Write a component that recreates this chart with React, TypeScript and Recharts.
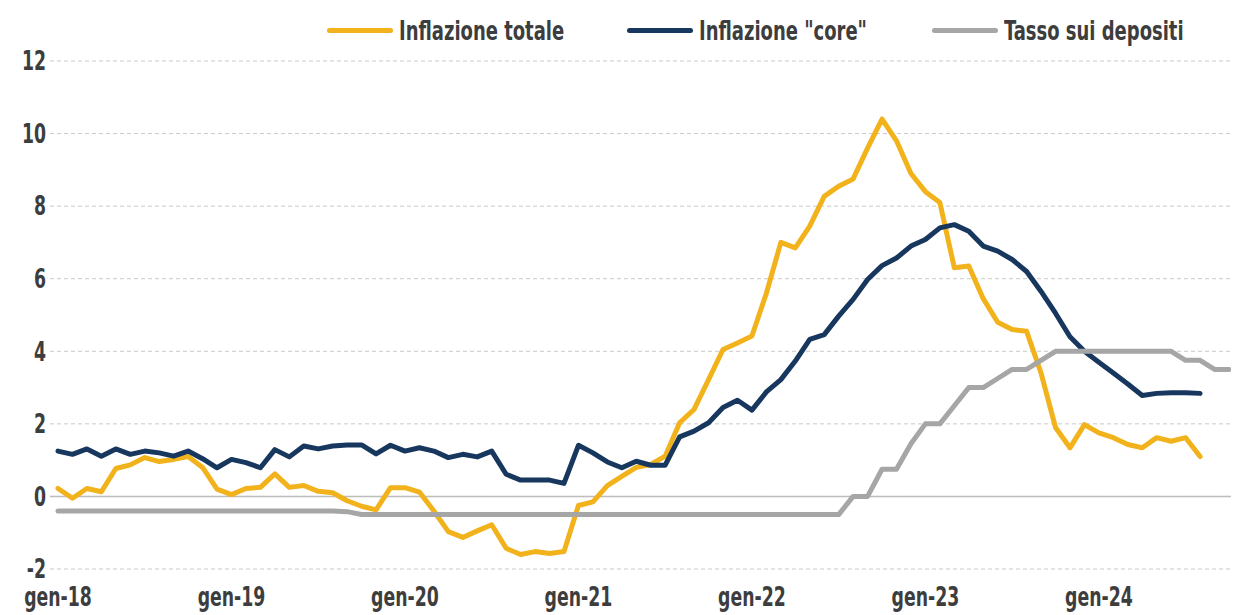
import React from "react"
import { CartesianGrid, Line, LineChart, ReferenceLine, XAxis, YAxis } from "recharts"

// monthly categories, gen-18 .. ott-24
const monthNames = ["gen", "feb", "mar", "apr", "mag", "giu", "lug", "ago", "set", "ott", "nov", "dic"]
const years = ["18", "19", "20", "21", "22", "23", "24"]
const months = years.flatMap((y) => monthNames.map((m) => `${m}-${y}`)).slice(0, 82)

// Inflazione totale (gen-18 .. ago-24)
const totale = [
  0.22, -0.05, 0.22, 0.13, 0.77, 0.87, 1.07, 0.96, 1.02, 1.1, 0.8, 0.2,
  0.05, 0.22, 0.25, 0.62, 0.25, 0.3, 0.14, 0.1, -0.12, -0.27, -0.37, 0.24,
  0.24, 0.12, -0.4, -0.97, -1.13, -0.95, -0.78, -1.43, -1.6, -1.52, -1.57, -1.52,
  -0.25, -0.15, 0.3, 0.55, 0.8, 0.88, 1.11, 2.03, 2.4, 3.22, 4.05, 4.23,
  4.42, 5.6, 7.0, 6.85, 7.45, 8.27, 8.55, 8.75, 9.6, 10.4, 9.8, 8.9,
  8.4, 8.1, 6.3, 6.35, 5.45, 4.8, 4.6, 4.55, 3.4, 1.9, 1.34, 1.98,
  1.75, 1.62, 1.43, 1.34, 1.62, 1.52, 1.62, 1.1,
]

// Inflazione "core" (gen-18 .. ago-24)
const core = [
  1.25, 1.16, 1.31, 1.11, 1.31, 1.16, 1.25, 1.2, 1.11, 1.25, 1.04, 0.79,
  1.02, 0.93, 0.79, 1.29, 1.09, 1.39, 1.31, 1.39, 1.42, 1.42, 1.17, 1.41,
  1.25, 1.34, 1.25, 1.07, 1.16, 1.09, 1.25, 0.61, 0.45, 0.45, 0.45, 0.36,
  1.41, 1.2, 0.95, 0.79, 0.97, 0.86, 0.86, 1.64, 1.8, 2.03, 2.45, 2.65,
  2.38, 2.88, 3.22, 3.73, 4.33, 4.46, 4.97, 5.43, 5.98, 6.36, 6.57, 6.9,
  7.08, 7.4, 7.49, 7.31, 6.9, 6.76, 6.53, 6.2, 5.65, 5.05, 4.4, 4.0,
  3.7, 3.4, 3.1, 2.78, 2.84, 2.86, 2.86, 2.84,
]

// Tasso sui depositi (gen-18 .. ott-24)
const depositi = [
  -0.4, -0.4, -0.4, -0.4, -0.4, -0.4, -0.4, -0.4, -0.4, -0.4, -0.4, -0.4,
  -0.4, -0.4, -0.4, -0.4, -0.4, -0.4, -0.4, -0.4, -0.42, -0.5, -0.5, -0.5,
  -0.5, -0.5, -0.5, -0.5, -0.5, -0.5, -0.5, -0.5, -0.5, -0.5, -0.5, -0.5,
  -0.5, -0.5, -0.5, -0.5, -0.5, -0.5, -0.5, -0.5, -0.5, -0.5, -0.5, -0.5,
  -0.5, -0.5, -0.5, -0.5, -0.5, -0.5, -0.5, 0, 0, 0.75, 0.75, 1.45,
  2.0, 2.0, 2.5, 3.0, 3.0, 3.25, 3.5, 3.5, 3.75, 4.0, 4.0, 4.0,
  4.0, 4.0, 4.0, 4.0, 4.0, 4.0, 3.75, 3.75, 3.5, 3.5,
]

const yTicks = [-2, 0, 2, 4, 6, 8, 10, 12]

const series = [
  { key: "totale", label: "Inflazione totale", color: "#F2B21B" },
  { key: "core", label: 'Inflazione "core"', color: "#17375E" },
  { key: "depositi", label: "Tasso sui depositi", color: "#A6A6A6" },
]

const data = months.map((month, i) => ({
  month,
  totale: totale[i],
  core: core[i],
  depositi: depositi[i],
}))

const font = '"DejaVu Sans Condensed", "DejaVu Sans", sans-serif'
const textColor = "#3d3d3d"
const squeeze = 0.74 // the reference uses a narrow font

// legend item x positions (chart coords)
const legendLeft = [319, 619, 924]

function XTick({ x, y, payload }: any) {
  return (
    <g transform={`translate(${x},${y}) scale(${squeeze},1)`}>
      <text textAnchor="middle" dy="0.71em" fill={textColor} fontFamily={font} fontWeight={700} fontSize={26}>
        {payload.value}
      </text>
    </g>
  )
}

function YTick({ x, y, payload }: any) {
  return (
    <g transform={`translate(${x},${y}) scale(${squeeze},1)`}>
      <text textAnchor="end" dy="0.355em" fill={textColor} fontFamily={font} fontWeight={700} fontSize={26}>
        {payload.value}
      </text>
    </g>
  )
}

function LegendOverlay() {
  return (
    <>
      {series.map((s, i) => (
        <div
          key={s.key}
          style={{
            position: "absolute",
            left: legendLeft[i],
            top: 7,
            display: "flex",
            alignItems: "center",
            whiteSpace: "nowrap",
          }}
        >
          <span
            style={{
              display: "inline-block",
              width: 66,
              height: 5,
              borderRadius: 3,
              background: s.color,
              marginRight: 6,
            }}
          />
          <span
            style={{
              display: "inline-block",
              fontFamily: font,
              fontWeight: 700,
              fontSize: 27,
              color: textColor,
              transform: `scaleX(${squeeze})`,
              transformOrigin: "left center",
            }}
          >
            {s.label}
          </span>
        </div>
      ))}
    </>
  )
}

export default function App() {
  return (
    <div style={{ position: "relative", width: 1231, height: 607 }}>
      <LineChart width={1231} height={607} data={data} margin={{ top: 53, right: 4, bottom: 0, left: 0 }}>
        <CartesianGrid vertical={false} stroke="#c9c9c9" strokeDasharray="4 3" />
        <ReferenceLine y={0} stroke="#bdbdbd" strokeWidth={1.5} />
        <XAxis
          dataKey="month"
          interval={11}
          axisLine={false}
          tickLine={false}
          tickSize={0}
          tickMargin={19}
          height={46}
          padding={{ left: 8, right: 6 }}
          tick={<XTick />}
        />
        <YAxis
          domain={[-2, 12]}
          ticks={yTicks}
          width={42}
          axisLine={false}
          tickLine={false}
          tickSize={0}
          tickMargin={4}
          tick={<YTick />}
        />
        {series.map((s) => (
          <Line
            key={s.key}
            dataKey={s.key}
            type="linear"
            stroke={s.color}
            strokeWidth={5}
            strokeLinejoin="round"
            strokeLinecap="round"
            dot={false}
            activeDot={false}
            isAnimationActive={false}
          />
        ))}
      </LineChart>
      <LegendOverlay />
    </div>
  )
}
